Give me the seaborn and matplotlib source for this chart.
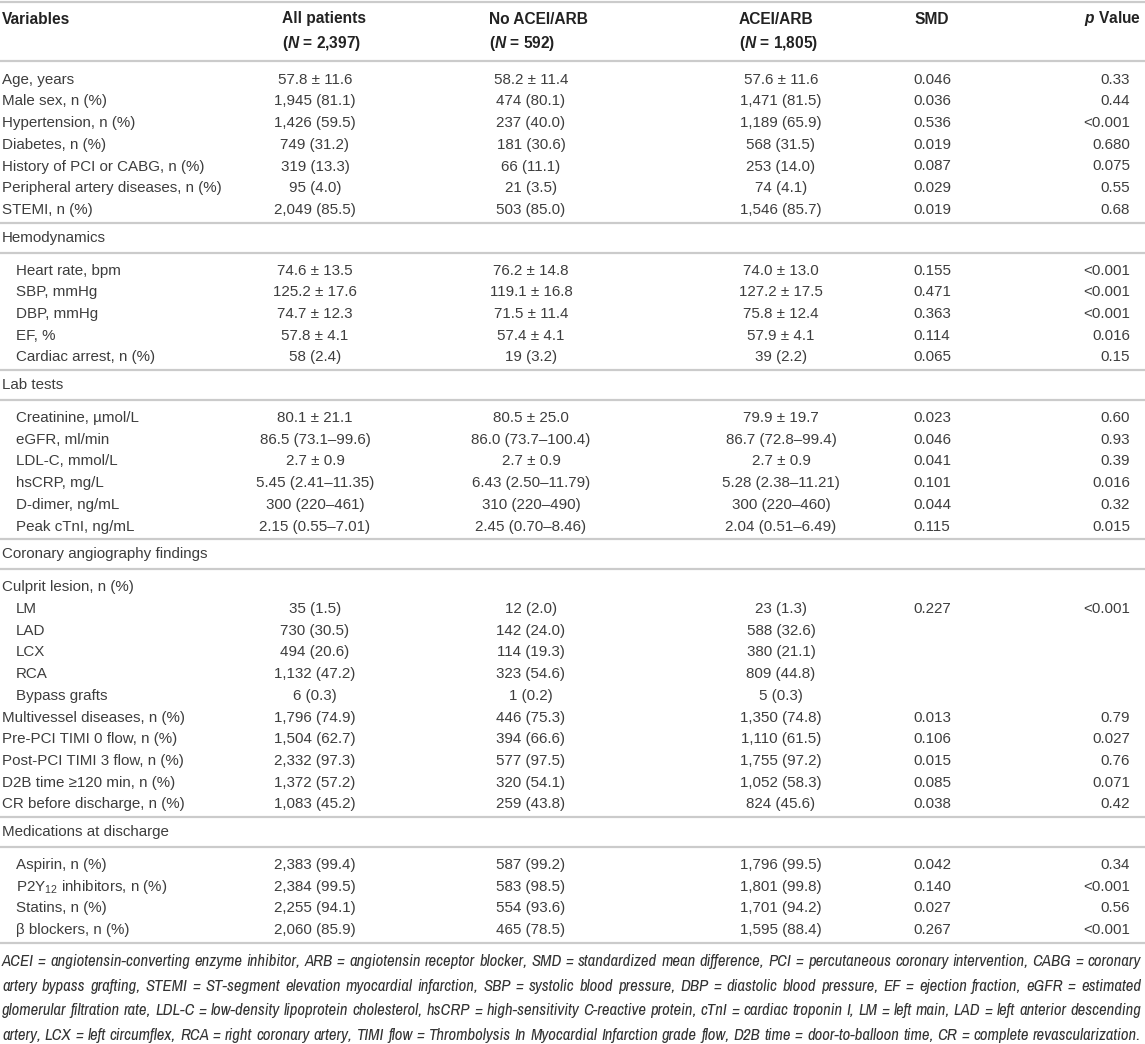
# Baseline characteristics table (ACEI/ARB vs no ACEI/ARB)

import matplotlib
matplotlib.use("Agg")
import matplotlib.pyplot as plt
import seaborn as sns
from matplotlib import font_manager

# --- table contents ---
columns = ["Variables", "All patients", "No ACEI/ARB", "ACEI/ARB", "SMD", r"$\mathbfit{p}$ Value"]
group_n = [r"($\mathbfit{N}$ = 2,397)", r"($\mathbfit{N}$ = 592)", r"($\mathbfit{N}$ = 1,805)"]

labels = [
    "Age, years", "Male sex, n (%)", "Hypertension, n (%)", "Diabetes, n (%)",
    "History of PCI or CABG, n (%)", "Peripheral artery diseases, n (%)", "STEMI, n (%)",
    "Hemodynamics",
    "Heart rate, bpm", "SBP, mmHg", "DBP, mmHg", "EF, %", "Cardiac arrest, n (%)",
    "Lab tests",
    "Creatinine, µmol/L", "eGFR, ml/min", "LDL-C, mmol/L", "hsCRP, mg/L", "D-dimer, ng/mL",
    "Peak cTnI, ng/mL",
    "Coronary angiography findings",
    "Culprit lesion, n (%)", "LM", "LAD", "LCX", "RCA", "Bypass grafts",
    "Multivessel diseases, n (%)", "Pre-PCI TIMI 0 flow, n (%)", "Post-PCI TIMI 3 flow, n (%)",
    "D2B time ≥120 min, n (%)", "CR before discharge, n (%)",
    "Medications at discharge",
    "Aspirin, n (%)", r"P2Y$_{\mathrm{12}}$ inhibitors, n (%)", "Statins, n (%)", "β blockers, n (%)",
]

# n = normal row, i = indented row, s = section heading
kinds = ["n"] * 7 + ["s"] + ["i"] * 5 + ["s"] + ["i"] * 6 + ["s"] + ["n"] + ["i"] * 5 + ["n"] * 5 + ["s"] + ["i"] * 4

all_patients = [
    "57.8 ± 11.6", "1,945 (81.1)", "1,426 (59.5)", "749 (31.2)", "319 (13.3)", "95 (4.0)", "2,049 (85.5)",
    "",
    "74.6 ± 13.5", "125.2 ± 17.6", "74.7 ± 12.3", "57.8 ± 4.1", "58 (2.4)",
    "",
    "80.1 ± 21.1", "86.5 (73.1–99.6)", "2.7 ± 0.9", "5.45 (2.41–11.35)", "300 (220–461)", "2.15 (0.55–7.01)",
    "",
    "", "35 (1.5)", "730 (30.5)", "494 (20.6)", "1,132 (47.2)", "6 (0.3)",
    "1,796 (74.9)", "1,504 (62.7)", "2,332 (97.3)", "1,372 (57.2)", "1,083 (45.2)",
    "",
    "2,383 (99.4)", "2,384 (99.5)", "2,255 (94.1)", "2,060 (85.9)",
]

no_acei_arb = [
    "58.2 ± 11.4", "474 (80.1)", "237 (40.0)", "181 (30.6)", "66 (11.1)", "21 (3.5)", "503 (85.0)",
    "",
    "76.2 ± 14.8", "119.1 ± 16.8", "71.5 ± 11.4", "57.4 ± 4.1", "19 (3.2)",
    "",
    "80.5 ± 25.0", "86.0 (73.7–100.4)", "2.7 ± 0.9", "6.43 (2.50–11.79)", "310 (220–490)", "2.45 (0.70–8.46)",
    "",
    "", "12 (2.0)", "142 (24.0)", "114 (19.3)", "323 (54.6)", "1 (0.2)",
    "446 (75.3)", "394 (66.6)", "577 (97.5)", "320 (54.1)", "259 (43.8)",
    "",
    "587 (99.2)", "583 (98.5)", "554 (93.6)", "465 (78.5)",
]

acei_arb = [
    "57.6 ± 11.6", "1,471 (81.5)", "1,189 (65.9)", "568 (31.5)", "253 (14.0)", "74 (4.1)", "1,546 (85.7)",
    "",
    "74.0 ± 13.0", "127.2 ± 17.5", "75.8 ± 12.4", "57.9 ± 4.1", "39 (2.2)",
    "",
    "79.9 ± 19.7", "86.7 (72.8–99.4)", "2.7 ± 0.9", "5.28 (2.38–11.21)", "300 (220–460)", "2.04 (0.51–6.49)",
    "",
    "", "23 (1.3)", "588 (32.6)", "380 (21.1)", "809 (44.8)", "5 (0.3)",
    "1,350 (74.8)", "1,110 (61.5)", "1,755 (97.2)", "1,052 (58.3)", "824 (45.6)",
    "",
    "1,796 (99.5)", "1,801 (99.8)", "1,701 (94.2)", "1,595 (88.4)",
]

smd = [
    "0.046", "0.036", "0.536", "0.019", "0.087", "0.029", "0.019",
    "",
    "0.155", "0.471", "0.363", "0.114", "0.065",
    "",
    "0.023", "0.046", "0.041", "0.101", "0.044", "0.115",
    "",
    "", "0.227", "", "", "", "",
    "0.013", "0.106", "0.015", "0.085", "0.038",
    "",
    "0.042", "0.140", "0.027", "0.267",
]

p_value = [
    "0.33", "0.44", "<0.001", "0.680", "0.075", "0.55", "0.68",
    "",
    "<0.001", "<0.001", "<0.001", "0.016", "0.15",
    "",
    "0.60", "0.93", "0.39", "0.016", "0.32", "0.015",
    "",
    "", "<0.001", "", "", "", "",
    "0.79", "0.027", "0.76", "0.071", "0.42",
    "",
    "0.34", "<0.001", "0.56", "<0.001",
]

footnote = [
    "ACEI = angiotensin-converting enzyme inhibitor, ARB = angiotensin receptor blocker, SMD = standardized mean difference, PCI = percutaneous coronary intervention, CABG = coronary",
    "artery bypass grafting, STEMI = ST-segment elevation myocardial infarction, SBP = systolic blood pressure, DBP = diastolic blood pressure, EF = ejection fraction, eGFR = estimated",
    "glomerular filtration rate, LDL-C = low-density lipoprotein cholesterol, hsCRP = high-sensitivity C-reactive protein, cTnI = cardiac troponin I, LM = left main, LAD = left anterior descending",
    "artery, LCX = left circumflex, RCA = right coronary artery, TIMI flow = Thrombolysis In Myocardial Infarction grade flow, D2B time = door-to-balloon time, CR = complete revascularization.",
]

# --- style ---
sns.set_theme(style="white")
plt.rcParams["font.family"] = ["Liberation Sans", "DejaVu Sans"]
plt.rcParams["mathtext.fontset"] = "custom"
plt.rcParams["mathtext.rm"] = "Liberation Sans"
plt.rcParams["mathtext.it"] = "Liberation Sans:italic"
plt.rcParams["mathtext.bf"] = "Liberation Sans:bold"
plt.rcParams["mathtext.bfit"] = "Liberation Sans:bold:italic"

# condensed italic for the footnote, as in the source
installed = {f.name for f in font_manager.fontManager.ttflist}
note_family = ["Archivo Narrow", "Liberation Sans"] if "Archivo Narrow" in installed else ["Liberation Sans"]

W, H = 1145, 1044
fig = plt.figure(figsize=(W / 100, H / 100), dpi=100)
ax = fig.add_axes([0, 0, 1, 1])
ax.set_xlim(0, W)
ax.set_ylim(H, 0)
ax.axis("off")
renderer = fig.canvas.get_renderer()

body = dict(fontsize=10.9, color="#3d3d3d", va="center")
head = dict(fontsize=11.2, color="#222222", va="center", fontweight="bold")
rule = dict(color="#cbcbcb", lw=1.6, solid_capstyle="butt")

# column anchors
x_label, x_indent = 2, 16
x_head = [2, 282, 489, 739]
x_cent = [315, 531, 781]
x_smd = 932
x_p_head, x_p = 1141, 1130

# row metrics
step, gap_a, gap_b, gap_c = 21.7, 12.7, 15.0, 18.0

# header
ax.axhline(2, **rule)
for x, c in zip(x_head, columns[:4]):
    ax.text(x, 19, c, ha="left", **head)
ax.text(x_smd, 19, columns[4], ha="center", **head)
ax.text(x_p_head, 19, columns[5], ha="right", **head)
for x, c in zip(x_head[1:], group_n):
    ax.text(x, 43.5, c, ha="left", **head)
ax.axhline(60.5, **rule)

# body rows
y_next, y_last = 79.7, None
for i, kind in enumerate(kinds):
    if kind == "s":
        line1 = y_last + gap_a
        y = line1 + gap_b
        line2 = y + gap_b
        ax.axhline(line1, **rule)
        ax.axhline(line2, **rule)
        ax.text(x_label, y, labels[i], ha="left", **body)
        y_next = line2 + gap_c
        continue
    y = y_next
    ax.text(x_indent if kind == "i" else x_label, y, labels[i], ha="left", **body)
    for x, col in zip(x_cent, [all_patients, no_acei_arb, acei_arb]):
        ax.text(x, y, col[i], ha="center", **body)
    ax.text(x_smd, y, smd[i], ha="center", **body)
    ax.text(x_p, y, p_value[i], ha="right", **body)
    y_last, y_next = y, y + step

bottom = y_last + gap_a
ax.axhline(bottom, **rule)

# footnote, justified to full width
note = dict(color="#333333", va="center", fontstyle="italic", family=note_family)


def text_width(s, size):
    t = ax.text(0, 0, s, fontsize=size, **note)
    w = t.get_window_extent(renderer).width
    t.remove()
    return w


target = 1139
widest = max(text_width(line, 10) for line in footnote)
note_size = 10 * target * 0.995 / widest

for k, line in enumerate(footnote):
    y = bottom + 18.5 + k * 24.8
    words = line.split(" ")
    widths = [text_width(w, note_size) for w in words]
    gap = (target - sum(widths)) / (len(words) - 1)
    x = 2
    for w, wd in zip(words, widths):
        ax.text(x, y, w, ha="left", fontsize=note_size, **note)
        x += wd + gap

fig.savefig("out.png", dpi=100)
